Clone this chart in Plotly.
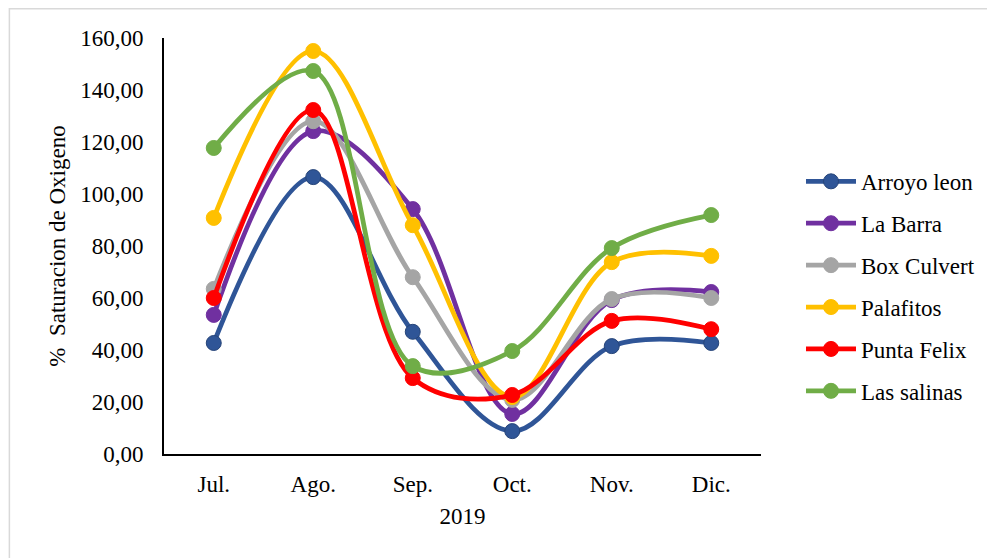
import plotly.graph_objects as go

months = ["Jul.", "Ago.", "Sep.", "Oct.", "Nov.", "Dic."]
series_names = ["Arroyo leon", "La Barra", "Box Culvert", "Palafitos", "Punta Felix", "Las salinas"]
arroyo_leon = [42.7, 106.5, 47.0, 8.8, 41.5, 42.7]
la_barra = [53.5, 124.2, 94.2, 15.4, 59.2, 62.3]
box_culvert = [63.5, 128.0, 68.0, 20.8, 59.6, 60.0]
palafitos = [90.8, 155.0, 88.0, 21.9, 73.8, 76.2]
punta_felix = [60.0, 132.3, 29.2, 22.7, 51.2, 48.0]
las_salinas = [117.7, 147.3, 33.8, 39.6, 79.2, 91.9]
y_ticks = [0, 20, 40, 60, 80, 100, 120, 140, 160]

values = [arroyo_leon, la_barra, box_culvert, palafitos, punta_felix, las_salinas]
colors = ["#2F5597", "#7030A0", "#A5A5A5", "#FFC000", "#FF0000", "#70AD47"]
edges = ["#264478", "#7030A0", "#A5A5A5", "#FFC000", "#FF0000", "#70AD47"]

fig = go.Figure()
for i, (name, vals) in enumerate(zip(series_names, values)):
    fig.add_trace(go.Scatter(
        x=months, y=vals, name=name, mode="lines+markers",
        line=dict(color=colors[i], width=4.75, shape="spline", smoothing=1.0),
        marker=dict(color=colors[i], size=15, line=dict(color=edges[i], width=1)),
        legendgroup=name,
    ))

font_family = "Liberation Serif, Times New Roman, serif"
fs = 23
fig.update_layout(
    width=995, height=558,
    margin=dict(l=156, r=242, t=30, b=112),
    paper_bgcolor="white", plot_bgcolor="white",
    separators=", ",
    font=dict(family=font_family, size=fs, color="black"),
    legend=dict(x=1.067, y=0.707, xanchor="left", yanchor="top",
                font=dict(size=fs, family=font_family), tracegroupgap=9,
                itemwidth=50, bgcolor="rgba(0,0,0,0)"),
    xaxis=dict(
        range=[-0.5, 5.5], showgrid=False, zeroline=False,
        showline=True, linecolor="black", linewidth=2,
        ticks="", ticklabelstandoff=8,
        title=dict(text="2019", standoff=12, font=dict(size=fs)),
    ),
    yaxis=dict(
        range=[0, 160], tickvals=y_ticks, tickformat=".2f",
        showgrid=False, zeroline=False,
        showline=True, linecolor="black", linewidth=2,
        ticks="", ticklabelstandoff=14,
        title=dict(text="%  Saturacion de Oxigeno", standoff=8, font=dict(size=fs)),
    ),
    shapes=[dict(type="rect", xref="paper", yref="paper",
                 x0=-0.259, x1=1.5, y0=-0.4, y1=1.0705,
                 line=dict(color="#D9D9D9", width=1.5), fillcolor="rgba(0,0,0,0)", layer="below")],
)

fig.write_html("out.html")
